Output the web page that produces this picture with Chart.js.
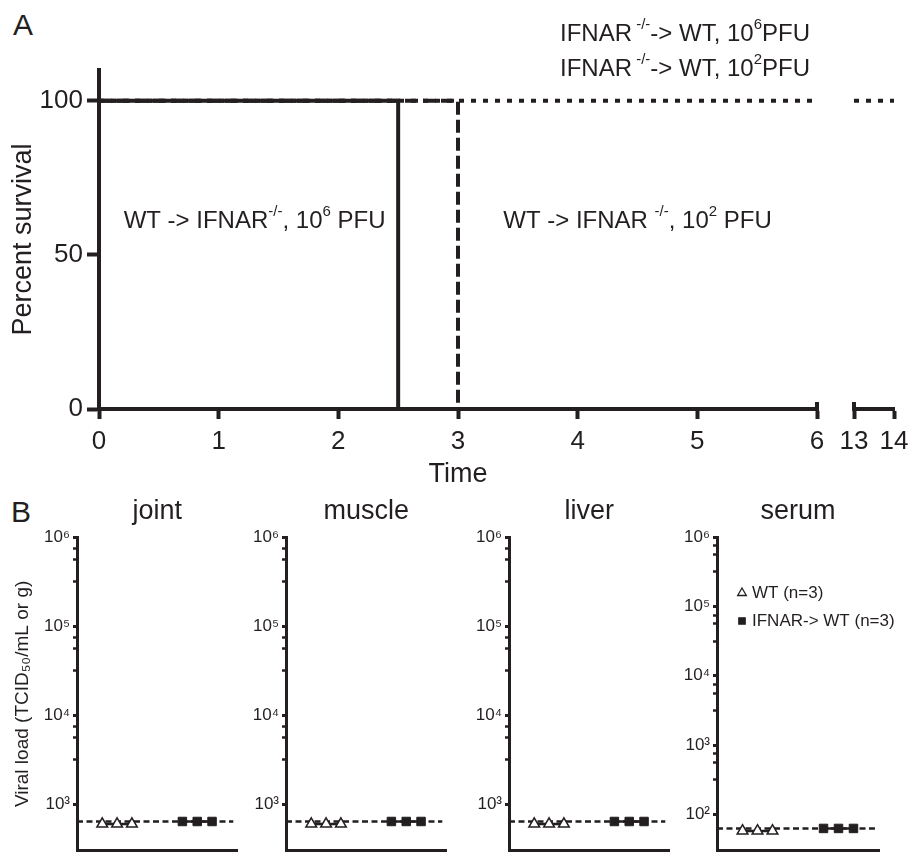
<!DOCTYPE html>
<html>
<head>
<meta charset="utf-8">
<title>Survival and viral load</title>
<script src="https://cdn.jsdelivr.net/npm/chart.js@4.4.1/dist/chart.umd.min.js"></script>
<style>
  html, body { margin: 0; padding: 0; background: #fff; overflow: hidden; }
  body { width: 910px; height: 854px; position: relative; font-family: "Liberation Sans", Arial, sans-serif; color: #231f20; }
  .box { position: absolute; }
  .panel { position: absolute; font-size: 30px; line-height: 30px; }
</style>
</head>
<body>
<div class="panel" style="left:13px;top:10px">A</div>
<div class="panel" style="left:11px;top:497px">B</div>

<div class="box" style="left:0;top:0;width:832px;height:495px"><canvas id="survLeft"></canvas></div>
<div class="box" style="left:830px;top:0;width:90px;height:495px"><canvas id="survRight"></canvas></div>

<div class="box" style="left:0;top:490px;width:245px;height:374px"><canvas id="joint"></canvas></div>
<div class="box" style="left:209px;top:490px;width:245px;height:374px"><canvas id="muscle"></canvas></div>
<div class="box" style="left:432px;top:490px;width:245px;height:374px"><canvas id="liver"></canvas></div>
<div class="box" style="left:640px;top:490px;width:270px;height:374px"><canvas id="serum"></canvas></div>

<script>
// ---- panel A: percent survival over time (days) ----
const solidTime = [0, 2.5];          // WT -> IFNAR-/-, 10^6 PFU
const solidSurv = [100, 0];
const dashedTime = [0, 3];           // WT -> IFNAR-/-, 10^2 PFU
const dashedSurv = [100, 0];
const dottedTimeLeft = [0, 6];       // IFNAR-/- -> WT, both doses
const dottedSurvLeft = [100, 100];
const dottedTimeRight = [13, 14];
const dottedSurvRight = [100, 100];
const timeTicksLeft = [0, 1, 2, 3, 4, 5, 6];
const timeTicksRight = [13, 14];
const survTicks = [0, 50, 100];

// ---- panel B: viral load at the detection limit ----
const legendLabels = ['WT (n=3)', 'IFNAR-> WT (n=3)'];
const jointWT = [600, 600, 600];
const jointIFNAR = [640, 640, 640];
const muscleWT = [600, 600, 600];
const muscleIFNAR = [640, 640, 640];
const liverWT = [600, 600, 600];
const liverIFNAR = [640, 640, 640];
const serumWT = [58, 58, 58];
const serumIFNAR = [63, 63, 63];
const tissueLimit = [640, 640, 640, 63];   // joint, muscle, liver, serum
const tissueMin = [300, 300, 300, 30];
const loadMax = 1e6;
const minorTickSteps = [0.5, 0.75, 0.875];  // log-fraction of each decade

const ink = '#231f20';
const fontFamily = '"Liberation Sans", Arial, Helvetica, sans-serif';
Chart.defaults.font.family = fontFamily;
Chart.defaults.color = ink;

const pts = (xs, ys) => xs.map((x, i) => ({ x: x, y: ys[i] }));

// text with superscript (1) / normal (0) pieces
function drawRich(ctx, parts, x, y, size, align) {
  const supSize = Math.round(size * 0.64);
  const widths = parts.map(function (p) {
    ctx.font = (p[1] ? supSize : size) + 'px ' + fontFamily;
    return ctx.measureText(p[0]).width;
  });
  const total = widths.reduce((a, b) => a + b, 0);
  let cx = align === 'center' ? x - total / 2 : (align === 'right' ? x - total : x);
  ctx.textBaseline = 'middle';
  ctx.textAlign = 'left';
  ctx.fillStyle = ink;
  parts.forEach(function (p, i) {
    ctx.font = (p[1] ? supSize : size) + 'px ' + fontFamily;
    ctx.fillText(p[0], cx, p[1] ? y - size * 0.4 : y);
    cx += widths[i];
  });
}

function breakCap(chart, side) {
  const { ctx, chartArea } = chart;
  const px = side === 'right' ? chartArea.right : chartArea.left;
  ctx.save();
  ctx.strokeStyle = ink;
  ctx.lineWidth = 4;
  ctx.beginPath();
  ctx.moveTo(px, chartArea.bottom - 7);
  ctx.lineTo(px, chartArea.bottom + 2);
  ctx.stroke();
  ctx.restore();
}

const survivalNotes = {
  id: 'survivalNotes',
  afterDraw(chart) {
    const { ctx, chartArea, scales } = chart;
    const x = scales.x, y = scales.y;
    ctx.save();
    drawRich(ctx, [['WT -> IFNAR', 0], ['-/-', 1], [', 10', 0], ['6', 1], [' PFU', 0]],
      x.getPixelForValue(1.3), y.getPixelForValue(61), 24, 'center');
    drawRich(ctx, [['WT -> IFNAR ', 0], ['-/-', 1], [', 10', 0], ['2', 1], [' PFU', 0]],
      x.getPixelForValue(4.5), y.getPixelForValue(61), 24, 'center');
    drawRich(ctx, [['IFNAR', 0], [' -/-', 1], ['-> WT, 10', 0], ['6', 1], ['PFU', 0]],
      chartArea.right - 7, 34, 24, 'right');
    drawRich(ctx, [['IFNAR', 0], [' -/-', 1], ['-> WT, 10', 0], ['2', 1], ['PFU', 0]],
      chartArea.right - 7, 69, 24, 'right');
    ctx.restore();
    breakCap(chart, 'right');
  }
};

const rightCap = {
  id: 'rightCap',
  afterDraw(chart) { breakCap(chart, 'left'); }
};

function survDataset(data, dash) {
  return {
    data: data,
    stepped: 'before',
    borderColor: ink,
    borderWidth: 4,
    borderDash: dash,
    borderCapStyle: 'butt',
    pointRadius: 0,
    fill: false
  };
}

function timeAxis(min, max, list, withTitle) {
  return {
    type: 'linear', min: min, max: max,
    afterBuildTicks: s => { s.ticks = list.map(v => ({ value: v })); },
    afterFit: s => { s.height = 86; },
    border: { color: ink, width: 4 },
    grid: { drawOnChartArea: false, tickLength: 10, tickWidth: 4, tickColor: ink },
    ticks: { color: ink, font: { size: 26 }, padding: 7, maxRotation: 0, autoSkip: false },
    title: { display: withTitle, text: 'Time', color: ink, font: { size: 27 }, padding: { top: 0, bottom: 4 } }
  };
}

function survAxis(show) {
  return {
    display: show,
    min: 0, max: 110,
    afterBuildTicks: s => { s.ticks = survTicks.map(v => ({ value: v })); },
    afterFit: s => { s.width = show ? 99 : 0; },
    border: { color: ink, width: 4 },
    grid: { drawOnChartArea: false, tickLength: 12, tickWidth: 4, tickColor: ink },
    ticks: { color: ink, font: { size: 26 }, padding: 4 },
    title: { display: show, text: 'Percent survival', color: ink, font: { size: 27 }, padding: { top: 7, bottom: 0 } }
  };
}

new Chart(document.getElementById('survLeft'), {
  type: 'line',
  data: {
    datasets: [
      survDataset(pts(solidTime, solidSurv), []),
      survDataset(pts(dashedTime, dashedSurv), [13, 5]),
      survDataset(pts(dottedTimeLeft, dottedSurvLeft), [5, 7])
    ]
  },
  options: {
    responsive: true, maintainAspectRatio: false, animation: false, devicePixelRatio: 1,
    layout: { padding: { top: 70, right: 15, left: 0, bottom: 0 } },
    plugins: { legend: { display: false }, tooltip: { enabled: false } },
    scales: { x: timeAxis(0, 6, timeTicksLeft, true), y: survAxis(true) }
  },
  plugins: [survivalNotes]
});

new Chart(document.getElementById('survRight'), {
  type: 'line',
  data: { datasets: [survDataset(pts(dottedTimeRight, dottedSurvRight), [5, 7])] },
  options: {
    responsive: true, maintainAspectRatio: false, animation: false, devicePixelRatio: 1,
    layout: { padding: { top: 70, right: 26, left: 24, bottom: 0 } },
    plugins: { legend: { display: false }, tooltip: { enabled: false } },
    scales: { x: timeAxis(13, 14, timeTicksRight, false), y: survAxis(false) }
  },
  plugins: [rightCap]
});

// ---- panel B helpers ----
const supDigits = ['⁰', '¹', '²', '³', '⁴', '⁵', '⁶', '⁷', '⁸', '⁹'];
const isDecade = v => Math.abs(Math.log10(v) - Math.round(Math.log10(v))) < 1e-6;
const decadeLabel = v => '10' + String(Math.round(Math.log10(v))).split('').map(d => supDigits[+d]).join('');

function loadTicks(min, max) {
  const ticks = [];
  const lo = Math.ceil(Math.log10(min) - 1e-9);
  const hi = Math.floor(Math.log10(max) + 1e-9);
  for (let e = lo; e <= hi; e++) {
    ticks.push({ value: Math.pow(10, e), major: true });
    if (e < hi) minorTickSteps.forEach(f => ticks.push({ value: Math.pow(10, e + f), major: false }));
  }
  return ticks;
}

const groupOffsets = [-0.37, 0, 0.37];
const groupPoints = (vals, centre) => vals.map((v, i) => ({ x: centre + groupOffsets[i % 3], y: v }));

const serumKey = {
  id: 'serumKey',
  afterDraw(chart) {
    const { ctx, chartArea } = chart;
    const x = chartArea.left + 25;
    ctx.save();
    legendLabels.forEach(function (lab, i) {
      const ds = chart.data.datasets[i];
      const y = chartArea.top + 56 + i * 28;
      ctx.fillStyle = ds.pointBackgroundColor;
      ctx.strokeStyle = ink;
      ctx.lineWidth = 1.3;
      Chart.helpers.drawPoint(ctx, { pointStyle: ds.pointStyle, radius: i ? 4.5 : 5, borderWidth: 1.3, rotation: 0 }, x, y);
      ctx.fillStyle = ink;
      ctx.font = '17px ' + fontFamily;
      ctx.textAlign = 'left';
      ctx.textBaseline = 'middle';
      ctx.fillText(lab, x + 10, y);
    });
    ctx.restore();
  }
};

function makeLoadChart(id, title, wt, ifnar, idx, padRight, withYTitle, extra) {
  const limit = tissueLimit[idx];
  return new Chart(document.getElementById(id), {
    type: 'scatter',
    data: {
      datasets: [
        { label: legendLabels[0], data: groupPoints(wt, 1), showLine: true, borderColor: ink, borderWidth: 2.5,
          pointStyle: 'triangle', pointRadius: 6.2, pointBackgroundColor: '#ffffff', pointBorderColor: ink, pointBorderWidth: 1.5 },
        { label: legendLabels[1], data: groupPoints(ifnar, 3), showLine: true, borderColor: ink, borderWidth: 2.5,
          pointStyle: 'rect', pointRadius: 6, pointBackgroundColor: ink, pointBorderColor: ink, pointBorderWidth: 1 },
        { label: 'limit of detection', data: [{ x: 0, y: limit }, { x: 3.9, y: limit }], showLine: true,
          borderColor: ink, borderWidth: 2.5, borderDash: [6, 3.5], pointRadius: 0 }
      ]
    },
    options: {
      responsive: true, maintainAspectRatio: false, animation: false, devicePixelRatio: 1,
      layout: { padding: { top: 0, right: padRight, left: 0, bottom: 0 } },
      plugins: {
        legend: { display: false }, tooltip: { enabled: false },
        title: { display: true, text: title, fullSize: false, color: ink,
                 font: { size: 27, weight: 'normal' }, padding: { top: 5, bottom: 9.6 } }
      },
      scales: {
        x: {
          type: 'linear', min: 0, max: 4,
          ticks: { display: false }, grid: { display: false },
          border: { color: ink, width: 3 },
          afterFit: s => { s.height = 12; }
        },
        y: {
          type: 'logarithmic', min: tissueMin[idx], max: loadMax,
          afterBuildTicks: s => { s.ticks = loadTicks(s.min, s.max); },
          afterFit: s => { s.width = 77; },
          border: { color: ink, width: 3 },
          grid: { drawOnChartArea: false, tickLength: 4, tickColor: ink,
                  tickWidth: c => (c.tick && isDecade(c.tick.value)) ? 3 : 2.5 },
          ticks: { autoSkip: false, padding: 3, color: ink, font: { size: 17 },
                   callback: v => isDecade(v) ? decadeLabel(v) : '' },
          title: { display: withYTitle, text: 'Viral load (TCID₅₀/mL or g)', color: ink,
                   font: { size: 19 }, padding: { top: 11, bottom: 0 } }
        }
      }
    },
    plugins: extra ? [extra] : []
  });
}

makeLoadChart('joint', 'joint', jointWT, jointIFNAR, 0, 6, true, null);
makeLoadChart('muscle', 'muscle', muscleWT, muscleIFNAR, 1, 6, false, null);
makeLoadChart('liver', 'liver', liverWT, liverIFNAR, 2, 6, false, null);
makeLoadChart('serum', 'serum', serumWT, serumIFNAR, 3, 31, false, serumKey);
</script>
</body>
</html>
